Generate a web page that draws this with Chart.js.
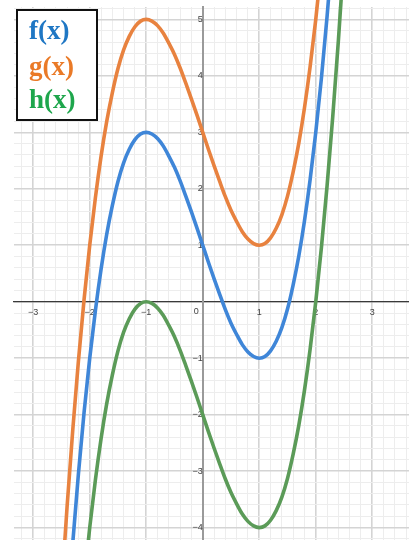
<!DOCTYPE html>
<html>
<head>
<meta charset="utf-8">
<title>f(x), g(x), h(x)</title>
<script src="https://cdn.jsdelivr.net/npm/chart.js@4/dist/chart.umd.min.js"></script>
<style>
  html, body { margin: 0; padding: 0; background: #ffffff; }
  #wrap { position: relative; width: 409px; height: 540px; }
</style>
</head>
<body>
<div id="wrap"><canvas id="plot"></canvas></div>
<script>
// Sample positions along the x axis
const xs = [-2.5,-2.4,-2.3,-2.2,-2.1,-2.0,-1.9,-1.8,-1.7,-1.6,-1.5,-1.4,-1.3,-1.2,-1.1,-1.0,
  -0.9,-0.8,-0.7,-0.6,-0.5,-0.4,-0.3,-0.2,-0.1,0,0.1,0.2,0.3,0.4,0.5,0.6,0.7,0.8,0.9,1.0,
  1.1,1.2,1.3,1.4,1.5,1.6,1.7,1.8,1.9,2.0,2.1,2.2,2.3,2.4,2.5];

// f(x) values at each sample
const fValues = [-7.13,-5.62,-4.27,-3.05,-1.96,-1.00,-0.16,0.57,1.19,1.70,2.13,2.46,2.70,2.87,2.97,3.00,
  2.97,2.89,2.76,2.58,2.38,2.14,1.87,1.59,1.30,1.00,0.70,0.41,0.13,-0.14,-0.38,-0.58,-0.76,-0.89,-0.97,-1.00,
  -0.97,-0.87,-0.70,-0.46,-0.13,0.30,0.81,1.43,2.16,3.00,3.96,5.05,6.27,7.62,9.13];

// g(x) values at each sample
const gValues = [-5.13,-3.62,-2.27,-1.05,0.04,1.00,1.84,2.57,3.19,3.70,4.13,4.46,4.70,4.87,4.97,5.00,
  4.97,4.89,4.76,4.58,4.38,4.14,3.87,3.59,3.30,3.00,2.70,2.41,2.13,1.86,1.62,1.42,1.24,1.11,1.03,1.00,
  1.03,1.13,1.30,1.54,1.87,2.30,2.81,3.43,4.16,5.00,5.96,7.05,8.27,9.62,11.13];

// h(x) values at each sample
const hValues = [-10.13,-8.62,-7.27,-6.05,-4.96,-4.00,-3.16,-2.43,-1.81,-1.30,-0.87,-0.54,-0.30,-0.13,-0.03,0.00,
  -0.03,-0.11,-0.24,-0.42,-0.62,-0.86,-1.13,-1.41,-1.70,-2.00,-2.30,-2.59,-2.87,-3.14,-3.38,-3.58,-3.76,-3.89,-3.97,-4.00,
  -3.97,-3.87,-3.70,-3.46,-3.13,-2.70,-2.19,-1.57,-0.84,0.00,0.96,2.05,3.27,4.62,6.13];

const seriesNames = ['f(x)', 'g(x)', 'h(x)'];
const lineColors = ['#3f86d8', '#e8823f', '#5b9b58'];
const nameColors = ['#1f77c4', '#ea7a27', '#1ea64c'];

const toPoints = vals => xs.map((x, i) => ({ x: x, y: vals[i] }));

const isInt = v => Math.abs(v - Math.round(v)) < 1e-6;
const onMinor = v => Math.abs(v * 5 - Math.round(v * 5)) < 1e-6;
const fmt = v => { const r = Math.round(v); return r < 0 ? '\u2212' + Math.abs(r) : String(r); };

// Boxed name list in the top-left corner
const nameBox = {
  id: 'nameBox',
  afterDatasetsDraw(chart) {
    const c = chart.ctx;
    c.save();
    c.fillStyle = '#ffffff';
    c.fillRect(17, 10, 80, 110);
    c.strokeStyle = '#111111';
    c.lineWidth = 2;
    c.strokeRect(17, 10, 80, 110);
    c.font = 'bold 27px "Liberation Serif", serif';
    c.textBaseline = 'middle';
    c.textAlign = 'left';
    const rows = [32, 68, 101];
    chart.data.datasets.forEach((ds, i) => {
      c.fillStyle = nameColors[i];
      c.fillText(ds.label, 29, rows[i]);
    });
    c.restore();
  }
};

// Origin label, set just below-left of where the axes cross
const originLabel = {
  id: 'originLabel',
  afterDraw(chart) {
    const c = chart.ctx;
    const px = chart.scales.x.getPixelForValue(0);
    const py = chart.scales.y.getPixelForValue(0);
    c.save();
    c.font = '9px "Liberation Sans", Arial, sans-serif';
    c.fillStyle = '#444444';
    c.textAlign = 'right';
    c.textBaseline = 'top';
    c.fillText('0', px - 4, py + 5);
    c.restore();
  }
};

const gridColor = ctx => {
  const v = ctx.tick ? ctx.tick.value : 0;
  if (!onMinor(v)) return 'rgba(0,0,0,0)';
  return isInt(v) ? '#d4d4d4' : '#ededed';
};
const gridWidth = ctx => {
  const v = ctx.tick ? ctx.tick.value : 0;
  return isInt(v) ? 1.6 : 1;
};

new Chart(document.getElementById('plot'), {
  type: 'scatter',
  data: {
    datasets: seriesNames.map((name, i) => ({
      label: name,
      data: toPoints([fValues, gValues, hValues][i]),
      showLine: true,
      borderColor: lineColors[i],
      backgroundColor: lineColors[i],
      borderWidth: 3.6,
      pointRadius: 0,
      pointHoverRadius: 0,
      cubicInterpolationMode: 'monotone',
      clip: { left: 0, top: false, right: 0, bottom: 0 }
    }))
  },
  options: {
    responsive: true,
    maintainAspectRatio: false,
    animation: false,
    events: [],
    layout: { padding: { left: 14, top: 7, right: 0, bottom: 0 } },
    plugins: {
      legend: { display: false },
      tooltip: { enabled: false }
    },
    scales: {
      x: {
        type: 'linear',
        position: { y: 0 },
        min: -3.34,
        max: 3.65,
        afterFit: s => { s.height = 0; s.paddingLeft = 0; s.paddingRight = 0; },
        border: { display: true, color: '#3a3a3a', width: 1.3 },
        grid: { color: gridColor, lineWidth: gridWidth, drawTicks: false },
        ticks: {
          stepSize: 0.2,
          maxTicksLimit: 200,
          autoSkip: false,
          includeBounds: false,
          maxRotation: 0,
          padding: 5,
          color: '#444444',
          font: { size: 9, family: '"Liberation Sans", Arial, sans-serif' },
          callback: v => (isInt(v) && Math.round(v) !== 0) ? fmt(v) : ''
        }
      },
      y: {
        type: 'linear',
        position: { x: 0 },
        min: -4.22,
        max: 5.22,
        afterFit: s => { s.width = 0; s.paddingTop = 0; s.paddingBottom = 0; },
        border: { display: true, color: '#9a9a9a', width: 2 },
        grid: { color: gridColor, lineWidth: gridWidth, drawTicks: false },
        ticks: {
          stepSize: 0.2,
          maxTicksLimit: 200,
          autoSkip: false,
          includeBounds: false,
          padding: 4,
          color: '#444444',
          font: { size: 9, family: '"Liberation Sans", Arial, sans-serif' },
          callback: v => (isInt(v) && Math.round(v) !== 0) ? fmt(v) : ''
        }
      }
    }
  },
  plugins: [nameBox, originLabel]
});
</script>
</body>
</html>
